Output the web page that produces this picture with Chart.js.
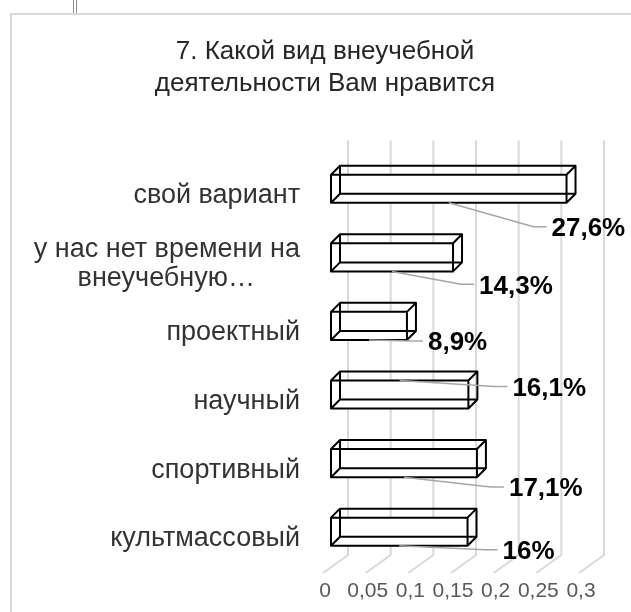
<!DOCTYPE html>
<html>
<head>
<meta charset="utf-8">
<script src="https://cdn.jsdelivr.net/npm/chart.js@4"></script>
<style>
  body { margin: 0; background: #fff; }
  #frame { position: absolute; left: 10px; top: 13px; width: 700px; height: 700px; border: 2px solid #d9d9d9; }
  .tick { position: absolute; top: 0; width: 1px; height: 13px; background: #8c8c8c; }
  #chart { position: absolute; left: 0; top: 0; }
</style>
</head>
<body>
<div id="frame"></div>
<div class="tick" style="left:73px"></div>
<div class="tick" style="left:76px"></div>
<canvas id="chart" width="631" height="612"></canvas>
<script>
// second line padded with nbsp so it sits centred under the first one
const categories = ['свой вариант', ['у нас нет времени на', 'внеучебную…\u00a0\u00a0\u00a0\u00a0\u00a0\u00a0'], 'проектный', 'научный', 'спортивный', 'культмассовый'];
const shares = [0.276, 0.143, 0.089, 0.161, 0.171, 0.16];
const shareLabels = ['27,6%', '14,3%', '8,9%', '16,1%', '17,1%', '16%'];
const xTickLabels = ['0', '0,05', '0,1', '0,15', '0,2', '0,25', '0,3'];

// where each data label sits, relative to bar end / bar centre
const labelPos = [
    { dx: -15, dy: 40, from: 'bottom' },
    { dx: 26, dy: 29, from: 'bottom' },
    { dx: 21, dy: 17, from: 'bottom' },
    { dx: 44, dy: -6, from: 'top' },
    { dx: 32, dy: 26, from: 'bottom' },
    { dx: 35, dy: 20, from: 'bottom' }
];
const DEPTH = 9;
const FONT = '"Liberation Sans", Arial, sans-serif';

// 1. Back wall grid + floor
const gridPlugin = {
    id: 'grid3d',
    beforeDatasetsDraw(chart) {
        const { ctx, chartArea, scales } = chart;
        ctx.save();
        ctx.strokeStyle = '#d9d9d9';
        ctx.lineWidth = 2;
        for (let i = 0; i < xTickLabels.length; i++) {
            const x = scales.x.getPixelForValue(i * 0.05) + 17;
            ctx.beginPath();
            ctx.moveTo(x, chartArea.top - 14);
            ctx.lineTo(x, chartArea.bottom - 11);
            ctx.lineTo(x - 25, chartArea.bottom + 7);
            ctx.stroke();
        }
        ctx.restore();
    }
};

// 2. Wireframe boxes, leader lines, labels
const boxPlugin = {
    id: 'box3d',
    afterDatasetsDraw(chart) {
        const { ctx } = chart;
        const bars = chart.getDatasetMeta(0).data;
        ctx.save();
        ctx.strokeStyle = '#000';
        ctx.lineWidth = 2;
        ctx.lineJoin = 'round';
        const d = DEPTH;
        bars.forEach(bar => {
            const { x, y, base, height } = bar.getProps(['x', 'y', 'base', 'height'], true);
            const t = y - height / 2, b = y + height / 2;
            ctx.beginPath();
            // back face
            ctx.rect(base + d, t - d, x - base, b - t);
            // connectors
            ctx.moveTo(base, t); ctx.lineTo(base + d, t - d);
            ctx.moveTo(x, t); ctx.lineTo(x + d, t - d);
            ctx.moveTo(x, b); ctx.lineTo(x + d, b - d);
            ctx.moveTo(base, b); ctx.lineTo(base + d, b - d);
            // front face
            ctx.rect(base, t, x - base, b - t);
            ctx.stroke();
        });

        bars.forEach((bar, i) => {
            const { x, y, base, height } = bar.getProps(['x', 'y', 'base', 'height'], true);
            const p = labelPos[i];
            const lx = x + p.dx, ly = y + p.dy;
            const sx = (x + base) / 2;
            const sy = p.from === 'top' ? y - height / 2 : y + height / 2;
            ctx.strokeStyle = '#a6a6a6';
            ctx.lineWidth = 1.5;
            ctx.beginPath();
            ctx.moveTo(sx, sy);
            ctx.lineTo(Math.max(sx, lx - 18), ly - 2);
            ctx.lineTo(lx - 5, ly - 2);
            ctx.stroke();
            ctx.fillStyle = '#000';
            ctx.font = 'bold 26px ' + FONT;
            ctx.textAlign = 'left';
            ctx.textBaseline = 'middle';
            ctx.fillText(shareLabels[i], lx, ly);
        });
        ctx.restore();
    }
};

new Chart(document.getElementById('chart'), {
    type: 'bar',
    data: {
        labels: categories,
        datasets: [{
            data: shares,
            backgroundColor: '#ffffff',
            borderColor: '#000000',
            borderWidth: 0,
            categoryPercentage: 1,
            barPercentage: 0.41
        }]
    },
    options: {
        indexAxis: 'y',
        responsive: false,
        animation: false,
        layout: { padding: { left: 19, right: 0, top: 0, bottom: 11 } },
        plugins: {
            legend: { display: false },
            tooltip: { enabled: false },
            title: {
                display: true,
                text: ['7. Какой вид внеучебной', 'деятельности Вам нравится'],
                color: '#262626',
                font: { family: FONT, size: 26, weight: 'normal', lineHeight: 1.22 },
                padding: { top: 36, bottom: 55 }
            }
        },
        scales: {
            x: {
                min: 0,
                max: 0.3,
                grid: { display: false, drawTicks: false },
                border: { display: false },
                afterFit: s => { s.height = 35; },
                ticks: {
                    stepSize: 0.05,
                    color: '#595959',
                    padding: 13,
                    labelOffset: -6,
                    maxRotation: 0,
                    autoSkip: false,
                    font: { family: FONT, size: 21 },
                    callback: (v, i) => xTickLabels[i]
                }
            },
            y: {
                grid: { display: false, drawTicks: false },
                border: { display: false },
                afterFit: s => { s.width = 331 - 19; },
                ticks: {
                    color: '#333333',
                    padding: 31,
                    labelOffset: 7,
                    autoSkip: false,
                    font: { family: FONT, size: 27, lineHeight: 1.07 }
                }
            },
            // empty strip on the right, keeps room for the labels
            yRight: {
                type: 'category',
                position: 'right',
                grid: { display: false, drawTicks: false },
                border: { display: false },
                ticks: { display: false },
                afterFit: s => { s.width = 44; }
            }
        }
    },
    plugins: [gridPlugin, boxPlugin]
});
</script>
</body>
</html>
